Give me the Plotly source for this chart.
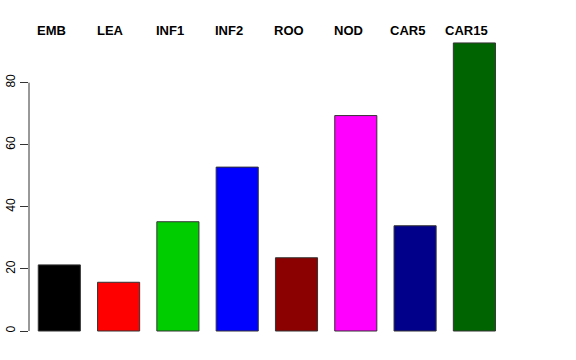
import plotly.graph_objects as go

categories = ["EMB", "LEA", "INF1", "INF2", "ROO", "NOD", "CAR5", "CAR15"]
values = [21.3, 15.7, 35.2, 52.8, 23.6, 69.4, 33.9, 92.8]
colors = ["#000000", "#FF0000", "#00CD00", "#0000FF", "#8B0000", "#FF00FF", "#00008B", "#006400"]
yticks = [0, 20, 40, 60, 80]

positions = list(range(len(categories)))

fig = go.Figure()
fig.add_trace(go.Bar(
    x=positions, y=values, width=0.71,
    marker=dict(color=colors, line=dict(color="#333333", width=1)),
    hoverinfo="skip", showlegend=False,
))

for p, c in zip(positions, categories):
    fig.add_annotation(x=p - 0.13, y=1.0, xref="x", yref="paper", text="<b>" + c + "</b>",
                       showarrow=False, xanchor="center", yanchor="middle",
                       font=dict(family="Liberation Sans, Arial, sans-serif", size=13, color="#000000"))

fig.add_shape(type="line", xref="paper", yref="y", x0=0, x1=0, y0=0, y1=80,
              line=dict(color="#333333", width=1))

fig.update_layout(
    width=576, height=360,
    margin=dict(l=29, r=40, t=30, b=18, autoexpand=False),
    paper_bgcolor="white", plot_bgcolor="white",
    font=dict(family="Liberation Sans, Arial, sans-serif", size=12, color="#000000"),
    xaxis=dict(range=[-0.511, 8.039], visible=False, showgrid=False, zeroline=False, automargin=False),
    yaxis=dict(range=[-3.54, 96.97], tickvals=yticks, ticktext=[str(v) for v in yticks],
               ticks="outside", ticklen=8, tickcolor="#333333", tickwidth=1,
               tickangle=-90, showgrid=False, zeroline=False, showline=False, automargin=False,
               tickfont=dict(size=12, color="#000000")),
)

fig.write_html("out.html", config={"displayModeBar": False, "staticPlot": True},
               post_script="document.body.style.margin='0';document.body.style.overflow='hidden';")
